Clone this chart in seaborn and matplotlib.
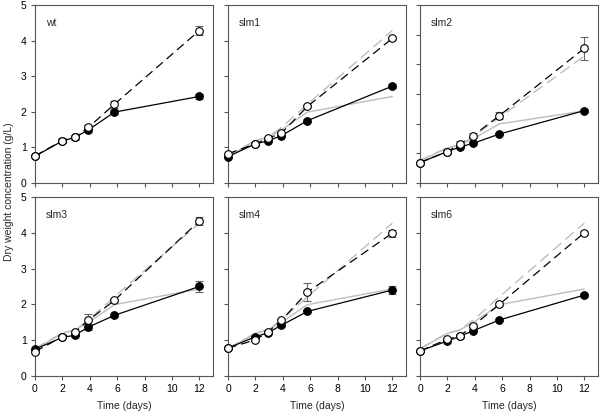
import matplotlib
matplotlib.use("Agg")
import matplotlib.pyplot as plt
import seaborn as sns
import pandas as pd

# sampling times (days)
days = [0, 2, 2.9, 3.9, 5.8, 12]

strains = ["wt", "slm1", "slm2", "slm3", "slm4", "slm6"]

# closed symbols (solid line) / open symbols (dashed line), means and SD
wt_closed = [0.75, 1.18, 1.28, 1.49, 1.99, 2.43]
wt_closed_err = [0.03, 0.05, 0.05, 0.05, 0.06, 0.06]
wt_open = [0.76, 1.19, 1.28, 1.56, 2.21, 4.28]
wt_open_err = [0.03, 0.07, 0.08, 0.06, 0.10, 0.12]

slm1_closed = [0.74, 1.10, 1.18, 1.33, 1.75, 2.72]
slm1_closed_err = [0.03, 0.03, 0.04, 0.04, 0.04, 0.05]
slm1_open = [0.82, 1.10, 1.25, 1.40, 2.15, 4.06]
slm1_open_err = [0.03, 0.03, 0.04, 0.04, 0.05, 0.05]

slm2_closed = [0.69, 1.06, 1.21, 1.34, 1.65, 2.44]
slm2_closed_err = [0.02, 0.03, 0.04, 0.04, 0.03, 0.04]
slm2_open = [0.69, 1.06, 1.31, 1.60, 2.27, 4.54]
slm2_open_err = [0.03, 0.04, 0.10, 0.10, 0.12, 0.38]

slm3_closed = [0.74, 1.07, 1.13, 1.36, 1.69, 2.50]
slm3_closed_err = [0.04, 0.03, 0.05, 0.08, 0.05, 0.16]
slm3_open = [0.67, 1.09, 1.21, 1.55, 2.11, 4.34]
slm3_open_err = [0.04, 0.04, 0.05, 0.17, 0.05, 0.12]

slm4_closed = [0.77, 1.09, 1.20, 1.41, 1.80, 2.40]
slm4_closed_err = [0.03, 0.03, 0.04, 0.05, 0.05, 0.10]
slm4_open = [0.77, 1.00, 1.22, 1.55, 2.34, 4.00]
slm4_open_err = [0.03, 0.04, 0.05, 0.05, 0.26, 0.10]

slm6_closed = [0.69, 0.97, 1.10, 1.26, 1.56, 2.26]
slm6_closed_err = [0.03, 0.03, 0.04, 0.04, 0.04, 0.05]
slm6_open = [0.69, 1.02, 1.11, 1.40, 2.00, 4.01]
slm6_open_err = [0.03, 0.04, 0.05, 0.04, 0.05, 0.05]

closed = [wt_closed, slm1_closed, slm2_closed, slm3_closed, slm4_closed, slm6_closed]
closed_err = [wt_closed_err, slm1_closed_err, slm2_closed_err,
              slm3_closed_err, slm4_closed_err, slm6_closed_err]
opened = [wt_open, slm1_open, slm2_open, slm3_open, slm4_open, slm6_open]
opened_err = [wt_open_err, slm1_open_err, slm2_open_err,
              slm3_open_err, slm4_open_err, slm6_open_err]

ymax = {"slm2": 6}

sns.set_style("ticks")
plt.rcParams["font.family"] = ["Liberation Sans", "DejaVu Sans"]
plt.rcParams["font.size"] = 7.5
plt.rcParams["axes.linewidth"] = 0.8
plt.rcParams["axes.edgecolor"] = "#555555"
plt.rcParams["xtick.major.size"] = 3
plt.rcParams["ytick.major.size"] = 3
plt.rcParams["xtick.major.width"] = 0.8
plt.rcParams["ytick.major.width"] = 0.8
plt.rcParams["xtick.color"] = "#555555"
plt.rcParams["ytick.color"] = "#555555"
plt.rcParams["xtick.labelcolor"] = "black"
plt.rcParams["ytick.labelcolor"] = "black"

fig = plt.figure(figsize=(6, 4.17), dpi=100)

lefts = [0.0583, 0.38, 0.70]
bottoms = [0.5612, 0.0995]
w, h = 0.2967, 0.4269

gray = "#bdbdbd"
errc = "#666666"

for i, name in enumerate(strains):
    r, c = divmod(i, 3)
    ax = fig.add_axes([lefts[c], bottoms[r], w, h])

    df = pd.DataFrame({"day": days, "closed": closed[i], "open": opened[i]})

    # wild-type curves repeated in grey for comparison
    if name != "wt":
        ref = pd.DataFrame({"day": days, "closed": wt_closed, "open": wt_open})
        sns.lineplot(data=ref, x="day", y="closed", ax=ax, color=gray, lw=1.0)
        sns.lineplot(data=ref, x="day", y="open", ax=ax, color=gray, lw=1.0,
                     linestyle=(0, (8, 4)))

    ax.errorbar(days, closed[i], yerr=closed_err[i], fmt="none", ecolor=errc,
                elinewidth=0.8, capsize=3, capthick=0.8, zorder=3, clip_on=False)
    ax.errorbar(days, opened[i], yerr=opened_err[i], fmt="none", ecolor=errc,
                elinewidth=0.8, capsize=3, capthick=0.8, zorder=3, clip_on=False)

    sns.lineplot(data=df, x="day", y="closed", ax=ax, color="black", lw=0.9,
                 marker="o", markersize=5.5, markerfacecolor="black",
                 markeredgecolor="black", markeredgewidth=0.8, zorder=4, clip_on=False)
    sns.lineplot(data=df, x="day", y="open", ax=ax, color="black", lw=0.9,
                 linestyle=(0, (7, 4)), marker="o", markersize=5.5,
                 markerfacecolor="white", markeredgecolor="black",
                 markeredgewidth=0.8, zorder=5, clip_on=False)

    top = ymax.get(name, 5)
    ax.set_xlim(0, 13)
    ax.set_ylim(0, top)
    ax.set_xticks(range(0, 13, 2))
    ax.set_yticks(range(0, top + 1))
    ax.tick_params(direction="out", pad=3, labelsize=7.5)
    for s in ax.spines.values():
        s.set_visible(True)

    ax.set_xlabel("")
    ax.set_ylabel("")
    if r == 0:
        ax.set_xticklabels([])
    else:
        ax.set_xlabel("Time (days)", fontsize=7.5, labelpad=5)
    if c != 0:
        ax.set_yticklabels([])

    ax.text(0.06, 0.9, name, transform=ax.transAxes, fontsize=7.5,
            ha="left", va="center")

fig.text(0.015, 0.54, "Dry weight concentration (g/L)", rotation=90,
         ha="center", va="center", fontsize=7.5)

fig.savefig("out.png", dpi=100)
